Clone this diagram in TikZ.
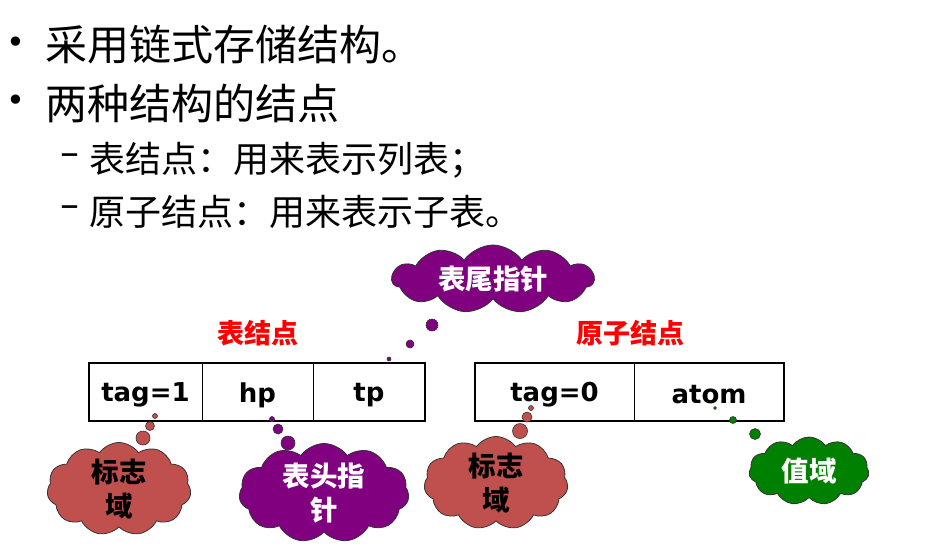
\documentclass[tikz,border=0pt]{standalone}
\usepackage{fontspec}
\setmainfont{Noto Sans CJK SC}
\newfontfamily\latinbold{DejaVu Sans Bold}
\newfontfamily\symfont{DejaVu Sans}
\usetikzlibrary{shapes.symbols}
\definecolor{tailpurple}{HTML}{800080}
\definecolor{tagred}{HTML}{C0504D}
\definecolor{valgreen}{HTML}{008000}
\tikzset{
  bodytext/.style={anchor=west, inner sep=0pt, font=\fontsize{42}{46}\selectfont},
  subtext/.style={anchor=west, inner sep=0pt, font=\fontsize{36}{40}\selectfont},
  dashtext/.style={anchor=west, inner sep=0pt, font=\symfont\fontsize{38}{40}\selectfont},
  bullettext/.style={anchor=west, inner sep=0pt, font=\symfont\fontsize{32}{32}\selectfont},
  fieldtext/.style={inner sep=0pt, font=\latinbold\fontsize{26}{28}\selectfont},
  headtext/.style={inner sep=0pt, text=red, font=\bfseries\fontsize{27}{30}\selectfont},
  nodebox/.style={draw, line width=2.6pt},
  divider/.style={draw, line width=0.8pt},
  bubble/.style={cloud, draw=black!80, line width=0.8pt, cloud puffs=11, cloud puff arc=110,
    cloud ignores aspect, inner sep=0pt, align=center,
    font=\bfseries\fontsize{27.5}{34}\selectfont},
  puff/.style={circle, draw=black!80, line width=0.6pt, inner sep=0pt, minimum size=#1},
}
\begin{document}
\begin{tikzpicture}[x=1pt,y=-1pt]
\useasboundingbox (0,0) rectangle (928,547);

% bullet list
\node[bullettext] (b1) at (6,45) {•};
\node[bodytext] (t1) at (45,45) {采用链式存储结构。};
\node[bullettext] (b2) at (6,103) {•};
\node[bodytext] (t2) at (45,103) {两种结构的结点};
\node[dashtext] (d1) at (60,160) {–};
\node[subtext] (t3) at (89,160) {表结点：用来表示列表；};
\node[dashtext] (d2) at (60,212) {–};
\node[subtext] (t4) at (89,212) {原子结点：用来表示子表。};

% node headings
\node[headtext] (hl) at (258,333) {表结点};
\node[headtext] (ha) at (630,333) {原子结点};

% list node: tag | hp | tp
\draw[nodebox] (89,363) rectangle (425,421);
\draw[divider] (202,363) -- (202,421);
\draw[divider] (313,363) -- (313,421);
\node[fieldtext] (tag1) at (145.5,395) {tag=1};
\node[fieldtext] (hp) at (257.5,395) {hp};
\node[fieldtext] (tp) at (369,395) {tp};

% atom node: tag | atom
\draw[nodebox] (475,363) rectangle (784,421);
\draw[divider] (634,363) -- (634,421);
\node[fieldtext] (tag0) at (554.5,395) {tag=0};
\node[fieldtext] (atom) at (709,395) {atom};

% tail pointer bubble
\node[bubble, fill=tailpurple, text=white, minimum width=202, minimum height=68] (ctp) at (493,279) {表尾指针};
\node[puff=12, fill=tailpurple] (p1a) at (432,325) {};
\node[puff=8, fill=tailpurple] (p1b) at (410,344) {};
\node[puff=4, fill=tailpurple] (p1c) at (389,359) {};

% tag bubble of the list node
\node[bubble, fill=tagred, text=black, minimum width=144, minimum height=84] (ctag1) at (119,489) {标志\\域};
\node[puff=14, fill=tagred] (p2a) at (143,438) {};
\node[puff=9, fill=tagred] (p2b) at (150,426) {};
\node[puff=5, fill=tagred] (p2c) at (155,416) {};

% head pointer bubble
\node[bubble, fill=tailpurple, text=white, minimum width=170, minimum height=84] (chp) at (324,493) {表头指\\针};
\node[puff=14, fill=tailpurple] (p3a) at (288,443) {};
\node[puff=10, fill=tailpurple] (p3b) at (278,429) {};
\node[puff=5, fill=tailpurple] (p3c) at (272,419) {};

% tag bubble of the atom node
\node[bubble, fill=tagred, text=black, minimum width=144, minimum height=88] (ctag0) at (496,483) {标志\\域};
\node[puff=15, fill=tagred] (p4a) at (520,431) {};
\node[puff=10, fill=tagred] (p4b) at (527,417) {};
\node[puff=5, fill=tagred] (p4c) at (531,408) {};

% value bubble
\node[bubble, fill=valgreen, text=white, minimum width=120, minimum height=68] (cval) at (809,471) {值域};
\node[puff=11, fill=valgreen] (p5a) at (755,434) {};
\node[puff=7, fill=valgreen] (p5b) at (733,420) {};
\node[puff=3, fill=valgreen] (p5c) at (715,408) {};
\end{tikzpicture}
\end{document}
